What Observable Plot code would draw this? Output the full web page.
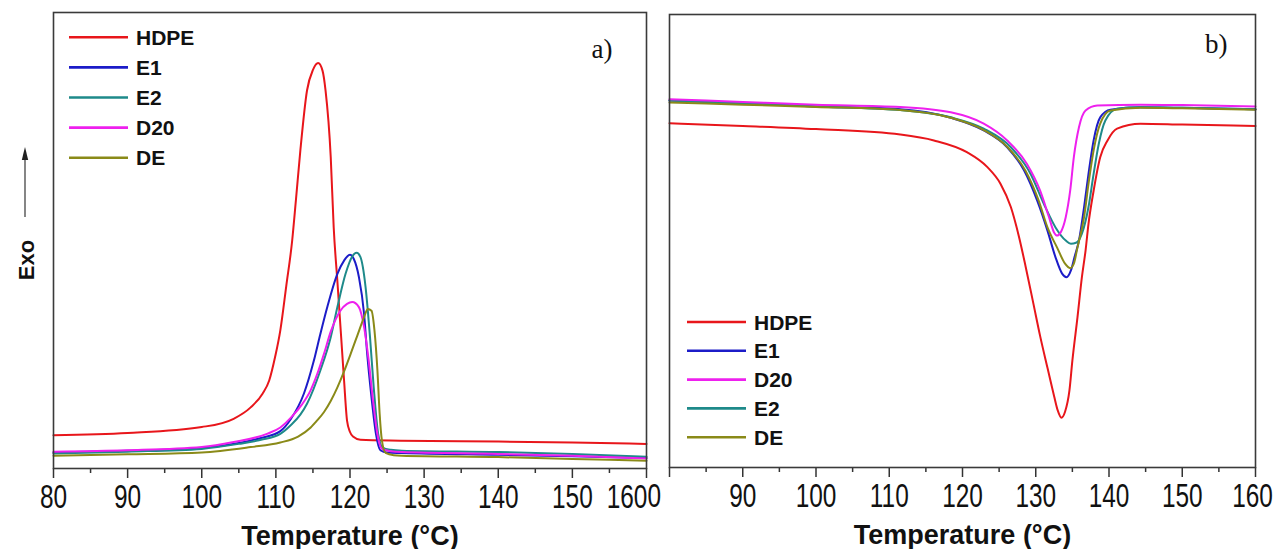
<!DOCTYPE html>
<html><head><meta charset="utf-8">
<script src="https://cdn.jsdelivr.net/npm/d3@7"></script>
<script src="https://cdn.jsdelivr.net/npm/@observablehq/plot@0.6"></script>
<style>
body{margin:0;background:#fff;}
#wrap{position:relative;width:1275px;height:549px;overflow:hidden;background:#fff;}
#wrap svg{position:absolute;top:0;background:transparent;}
</style></head><body><div id="wrap"></div>
<script>
// ---- ticks & labels ----
const TICKS_MAJOR = [80, 90, 100, 110, 120, 130, 140, 150, 160];
const TICKS_MINOR = [85, 95, 105, 115, 125, 135, 145, 155];
const X_LABEL = "Temperature (°C)";
const Y_LABEL = "Exo";
const LEGEND_A = ["HDPE", "E1", "E2", "D20", "DE"];
const LEGEND_B = ["HDPE", "E1", "D20", "E2", "DE"];
const COLORS = {HDPE: "#e8161b", E1: "#1c1cc8", E2: "#1e8a8a", D20: "#ee20ee", DE: "#8a8a18"};

// ---- a) cooling (crystallisation) curves: [T (°C), heat flow (arb. units)] ----
const cryst_HDPE = [[80,7.3],[90,7.8],[100,9.1],[104.3,10.9],[106.6,13.4],[108.2,16.4],[109.1,19.3],[109.9,24.5],[110.6,30.3],[111.4,40],[112.2,50],[112.7,58.8],[113.3,69.7],[114.2,82.9],[115.0,87.4],[115.7,88.9],[116.3,87.2],[116.7,82.9],[117.4,68.3],[117.8,52.9],[118.3,41],[118.8,29],[119.2,19.3],[119.6,10.5],[120.0,8.0],[120.4,7.0],[121.4,6.3],[126.8,6.1],[140,5.9],[150,5.7],[160,5.4]];
const cryst_E1 = [[80,3.5],[90,3.9],[100,4.5],[105,5.6],[108,6.7],[110.6,8.2],[112,10.8],[113.8,16.5],[115.1,23.5],[116,29.5],[116.9,35.2],[118.3,42.7],[119.2,45.6],[120,46.9],[120.5,46.0],[121.2,42.0],[121.9,33.9],[122.3,25.5],[122.9,15.6],[123.5,7.6],[124.1,4.0],[125,3.5],[127,3.4],[140,3.0],[150,2.7],[160,2.3]];
const cryst_E2 = [[80,3.3],[90,3.7],[100,4.3],[105,5.4],[108,6.3],[110.6,7.6],[112,9.5],[113.3,11.8],[114.2,14.2],[116,21.5],[117.4,28.8],[118.3,35.4],[119.4,42.7],[120.3,46.5],[120.9,47.3],[121.4,46.4],[122.1,39.8],[122.7,28.8],[123.2,17.8],[123.8,7.6],[124.4,4.6],[125.5,4.1],[127,3.9],[140,3.6],[150,3.2],[160,2.6]];
const cryst_D20 = [[80,3.7],[90,4.0],[100,4.7],[104.3,5.8],[108.8,7.6],[110.6,9.0],[112.4,11.8],[113.5,14],[114.7,17.2],[115.6,20.8],[116.5,25.2],[117.4,30],[118.7,34.6],[119.6,36.1],[120.3,36.5],[121.2,35.4],[121.9,31.0],[122.5,24],[123.1,15],[123.7,7.5],[124.3,4.3],[125.5,3.8],[127,3.6],[140,3.2],[150,2.8],[160,2.2]];
const cryst_DE = [[80,2.8],[90,3.1],[100,3.5],[106.6,4.7],[110.6,5.7],[113,7.0],[114.7,9.0],[115.6,10.6],[116.5,12.4],[117.4,14.8],[118.3,17.8],[119.2,21.3],[120.1,25.2],[121,29.2],[121.9,33.2],[122.4,35.0],[122.9,34.6],[123.3,30.3],[123.7,21.5],[124.0,12.0],[124.3,6.2],[124.8,3.4],[125.9,2.9],[127,2.8],[140,2.5],[150,2.1],[160,1.7]];

// ---- b) heating (melting) curves ----
const melt_HDPE = [[80,76.0],[90,75.4],[100,74.7],[111.5,73.5],[116.1,72.2],[120.6,69.6],[123.4,66.3],[125.2,62.6],[126.6,57.5],[127.7,51.0],[128.6,44.5],[129.7,36.0],[130.6,29.0],[131.6,22.0],[132.5,15.8],[133.0,12.6],[133.5,11.0],[134.0,12.3],[134.6,17],[135.0,23.6],[135.7,33.2],[136.3,42.0],[136.8,47.9],[137.2,53.8],[137.9,61.1],[138.8,68.5],[139.8,72.2],[141.1,74.8],[144.3,75.9],[150,75.7],[160,75.4]];
const melt_E1 = [[80,81.0],[90,80.4],[100,79.7],[111.5,79.1],[118.4,77.2],[122.9,74.4],[126.1,70.7],[128.4,65.6],[130.2,58.9],[131.6,52.3],[132.7,46.4],[133.6,42.8],[134.2,42.0],[134.8,43.5],[135.3,46.5],[135.9,50.1],[136.6,57.5],[137.2,64.8],[137.9,72.2],[138.8,77.3],[140.2,79.0],[144.3,79.5],[150,79.4],[160,79.1]];
const melt_E2 = [[80,81.0],[90,80.4],[100,79.7],[111.5,78.9],[118.4,77.3],[122.9,74.8],[126.6,70.7],[129.3,64.8],[131.1,58.2],[132.7,53.0],[134.1,50.1],[134.8,49.4],[135.5,49.6],[136.3,51.6],[137.2,57.5],[137.9,64.8],[138.6,71.4],[139.5,76.6],[141.1,79.2],[144.3,79.5],[150,79.4],[160,79.1]];
const melt_D20 = [[80,81.3],[90,80.7],[100,80.1],[111.5,79.6],[118.4,78.4],[122.9,75.9],[126.1,72.2],[128.8,67.0],[130.6,61.1],[131.8,55.3],[132.5,51.9],[132.9,51.2],[133.4,51.9],[134.1,55.3],[134.7,61.1],[135.2,68.5],[135.9,75.1],[136.8,78.8],[138.4,79.9],[144.3,80.1],[150,80.0],[160,79.7]];
const melt_DE = [[80,80.6],[90,80.1],[100,79.6],[111.5,78.9],[118.4,77.2],[122.9,74.5],[126.1,70.8],[128.6,65.5],[130.4,58.9],[131.6,53.0],[132.9,48.6],[134.0,45.0],[134.7,44.0],[135.2,45.0],[135.7,48.6],[136.6,55.3],[137.2,62.6],[137.9,70.0],[138.8,75.9],[140.2,78.8],[144.3,79.4],[150,79.3],[160,79.0]];

const toRows = (obj) => Object.entries(obj).flatMap(([s, pts]) => pts.map(([T, v]) => ({series: s, T, v})));
const rowsA = toRows({HDPE: cryst_HDPE, E1: cryst_E1, E2: cryst_E2, D20: cryst_D20, DE: cryst_DE});
const rowsB = toRows({HDPE: melt_HDPE, E1: melt_E1, E2: melt_E2, D20: melt_D20, DE: melt_DE});

const SANS = "'Liberation Sans',Arial,sans-serif";
const SERIF = "'Liberation Serif','Times New Roman',serif";

function panel(rows, o) {
  const shifted = Object.keys(o.shifts).map(Number);
  const labelTicks = TICKS_MAJOR.filter(t => !shifted.includes(t));
  const tickText = {tickSize: 0, tickPadding: 16, label: null, fontSize: 33, fontFamily: SANS, fill: "#111"};
  return Plot.plot({
    width: o.width, height: 549,
    marginLeft: o.ml, marginRight: o.mr, marginTop: o.mt, marginBottom: 549 - o.bottom,
    style: {background: "transparent", overflow: o.overflow},
    x: {domain: [80, 160], axis: null},
    y: {domain: [0, 100], axis: null},
    color: {domain: Object.keys(COLORS), range: Object.values(COLORS)},
    marks: [
      Plot.axisX({ticks: TICKS_MAJOR, tickSize: 10, tickFormat: () => "", label: null, stroke: "#333", strokeWidth: 1.5}),
      Plot.axisX({ticks: TICKS_MINOR, tickSize: 5, tickFormat: () => "", label: null, stroke: "#333", strokeWidth: 1.5}),
      Plot.axisX({ticks: labelTicks, ...tickText}),
      ...shifted.map(t => Plot.axisX({ticks: [t], ...tickText, dx: o.shifts[t]})),
      Plot.line(rows, {x: "T", y: "v", z: "series", stroke: "series", strokeWidth: 2, curve: "monotone-x"}),
      Plot.frame({stroke: "#3a3a3a", strokeWidth: 1.6}),
      Plot.text([X_LABEL], {text: d => d, frameAnchor: "bottom", dy: 76, lineAnchor: "bottom", fontWeight: "bold", fontSize: 27, fontFamily: SANS, fill: "#111"}),
      Plot.text([o.letter], {text: d => d, frameAnchor: "top-right", dx: o.letterDx, dy: o.letterDy, lineAnchor: "top", fontSize: 27, fontFamily: SERIF, fill: "#111"})
    ]
  });
}

function addLegend(svg, names, x0, y0, step) {
  const g = d3.select(svg).append("g").attr("text-anchor", "start");
  names.forEach((n, i) => {
    const y = y0 + i * step;
    g.append("line").attr("x1", x0).attr("x2", x0 + 59).attr("y1", y).attr("y2", y)
      .attr("stroke", COLORS[n]).attr("stroke-width", 2.6);
    g.append("text").attr("x", x0 + 67).attr("y", y).attr("dy", "0.36em").attr("text-anchor", "start")
      .attr("font-family", SANS).attr("font-weight", "bold").attr("font-size", 21).attr("fill", "#111").text(n);
  });
}

// condense numeric tick labels horizontally (tall, narrow digits as in the figure)
function condenseTicks(svg) {
  d3.select(svg).selectAll("text").filter(function() { return /^\s*\d+\s*$/.test(this.textContent); }).each(function() {
    const t = this.getAttribute("transform") || "";
    const xa = this.getAttribute("x");
    let pre = "";
    if (xa !== null && /^-?[\d.]+$/.test(xa.trim())) { pre = `translate(${xa},0) `; this.removeAttribute("x"); }
    this.setAttribute("transform", `${t} ${pre}scale(0.74,1)`.trim());
  });
}

const wrap = document.getElementById("wrap");

// panel b: its svg starts at x=647 and clips, so only the "0" of its first label shows (as in the figure)
const svgB = panel(rowsB, {width: 628, ml: 22, mr: 20, mt: 14, bottom: 467, shifts: {80: -22, 160: -3}, letter: "b)", letterDx: -28, letterDy: 19, overflow: "hidden"});
svgB.style.left = "647px";
wrap.appendChild(svgB);
addLegend(svgB, LEGEND_B, 40, 322, 28.8);
condenseTicks(svgB);

// panel a
const svgA = panel(rowsA, {width: 665, ml: 53, mr: 19, mt: 12, bottom: 468, shifts: {160: -19.5}, letter: "a)", letterDx: -34, letterDy: 26, overflow: "visible"});
svgA.style.left = "0px";
wrap.appendChild(svgA);
addLegend(svgA, LEGEND_A, 69, 37.3, 30.1);
condenseTicks(svgA);

// y label with arrow
const ga = d3.select(svgA).append("g");
ga.append("text").attr("transform", "translate(26,260) rotate(-90)").attr("text-anchor", "middle").attr("dy", "0.36em")
  .attr("font-family", SANS).attr("font-weight", "bold").attr("font-size", 22).attr("fill", "#111").text(Y_LABEL);
ga.append("line").attr("x1", 25).attr("x2", 25).attr("y1", 217).attr("y2", 158).attr("stroke", "#222").attr("stroke-width", 1.1);
ga.append("path").attr("d", "M25,147 L21.8,160 L28.2,160 Z").attr("fill", "#222");
</script></body></html>
